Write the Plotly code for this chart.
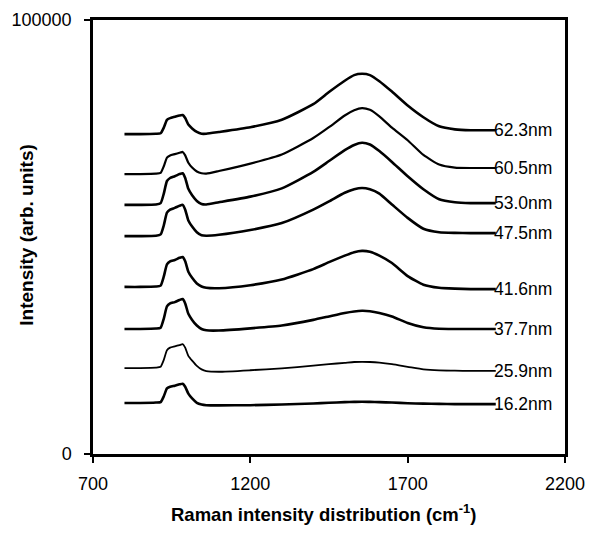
import plotly.graph_objects as go

# Raman shift (cm^-1) sample positions shared by all spectra
raman_shift = [800, 850, 900, 915, 925, 935, 945, 960, 975, 985, 993, 1003, 1015, 1030, 1045, 1060,
               1100, 1200, 1300, 1400, 1450, 1500, 1530, 1555, 1580, 1610, 1650, 1700, 1750, 1800,
               1850, 1900, 1940, 1980]

s_62_3 = [73700, 73700, 73800, 73900, 75200, 77000, 77400, 77700, 78000, 78100, 77400, 75900, 75000, 74200, 73800, 73800,
          74200, 75300, 77000, 80600, 83400, 86000, 87300, 87600, 87300, 85900, 83500, 80300, 77600, 75500,
          74800, 74600, 74600, 74600]
s_60_5 = [64500, 64500, 64600, 64800, 66300, 68300, 68800, 69100, 69400, 69600, 68800, 67100, 66000, 65100, 64700, 64600,
          65200, 66900, 69000, 72800, 75300, 78000, 79200, 79700, 79300, 77800, 75200, 72300, 68900, 66700,
          66000, 65900, 65900, 65900]
s_53_0 = [57400, 57400, 57500, 57800, 60000, 62900, 63600, 64000, 64500, 64700, 63600, 61100, 59600, 58300, 57600, 57500,
          58000, 59300, 61200, 65000, 67500, 70000, 71200, 71700, 71300, 69800, 67300, 64000, 61000, 58700,
          58000, 57800, 57800, 57800]
s_47_5 = [50200, 50200, 50300, 50600, 52700, 55600, 56300, 56700, 57200, 57400, 56300, 53800, 52400, 51100, 50400, 50300,
          50500, 51600, 53200, 56300, 58200, 60200, 61000, 61300, 61000, 60000, 57500, 54400, 51900, 51100,
          50950, 50900, 50900, 50900]
s_41_6 = [38500, 38500, 38600, 38800, 40900, 43700, 44400, 44700, 45200, 45400, 44400, 42000, 40600, 39300, 38600, 38300,
          38200, 38900, 40200, 42600, 44200, 45700, 46500, 46800, 46600, 45700, 44000, 41000, 39000, 38300,
          38100, 38000, 38000, 38000]
s_37_7 = [28800, 28800, 28900, 29100, 31200, 34000, 34700, 35000, 35500, 35700, 34700, 32300, 30900, 29600, 28800, 28500,
          28450, 28950, 29600, 30900, 31700, 32500, 32850, 33000, 32900, 32500, 31700, 30200, 29200, 28850,
          28800, 28800, 28800, 28800]
s_25_9 = [19800, 19800, 19900, 20100, 21700, 23900, 24500, 24800, 25100, 25300, 24500, 22600, 21500, 20300, 19500, 19100,
          18950, 19300, 19750, 20350, 20700, 21000, 21200, 21250, 21200, 21050, 20700, 20100, 19500, 19250,
          19200, 19150, 19150, 19150]
s_16_2 = [11750, 11750, 11850, 11950, 13300, 15100, 15500, 15750, 16050, 16200, 15500, 13900, 12800, 11800, 11400, 11250,
          11200, 11250, 11400, 11650, 11800, 11950, 12000, 12050, 12000, 11950, 11850, 11700, 11600, 11550,
          11500, 11500, 11500, 11500]

series = [s_62_3, s_60_5, s_53_0, s_47_5, s_41_6, s_37_7, s_25_9, s_16_2]
labels = ["62.3nm", "60.5nm", "53.0nm", "47.5nm", "41.6nm", "37.7nm", "25.9nm", "16.2nm"]
widths = [2.6, 2.2, 2.6, 2.6, 2.6, 2.6, 1.8, 2.6]

x_ticks = [700, 1200, 1700, 2200]
y_ticks = [0, 100000]

x_title = "<b>Raman intensity distribution (cm<sup>-1</sup>)</b>"
y_title = "<b>Intensity (arb. units)</b>"

FONT = "Liberation Sans, Arial, sans-serif"

fig = go.Figure()
for ys, lab, w in zip(series, labels, widths):
    fig.add_trace(go.Scatter(x=raman_shift, y=ys, mode="lines", name=lab,
                             line=dict(color="black", width=w, shape="spline", smoothing=0.5),
                             showlegend=False))
    fig.add_annotation(x=raman_shift[-1], y=ys[-1], text=lab, showarrow=False,
                       xanchor="left", yanchor="middle", xshift=-4,
                       font=dict(family=FONT, size=17.5, color="black"))

# axis titles placed as paper annotations
fig.add_annotation(xref="paper", yref="paper", x=0.49, y=-0.135, xanchor="center", yanchor="middle",
                   text=x_title, showarrow=False, font=dict(family=FONT, size=18.5, color="black"))
fig.add_annotation(xref="paper", yref="paper", x=-0.14, y=0.505, xanchor="center", yanchor="middle",
                   text=y_title, textangle=-90, showarrow=False,
                   font=dict(family=FONT, size=19, color="black"))

fig.update_layout(
    width=588, height=533,
    margin=dict(l=85, r=31, t=12, b=87, autoexpand=False),
    paper_bgcolor="white", plot_bgcolor="white",
    font=dict(family=FONT, color="black"),
)
fig.update_xaxes(range=[700, 2200], tickvals=x_ticks, ticktext=[str(v) for v in x_ticks],
                 automargin=False,
                 showgrid=False, zeroline=False, showline=True, linecolor="black", linewidth=2.5,
                 mirror=True, ticks="outside", ticklen=6, tickwidth=2, tickcolor="black",
                 tickfont=dict(family=FONT, size=18), ticklabelstandoff=6)
fig.update_yaxes(range=[0, 100000], tickvals=y_ticks, ticktext=["0", "100000"],
                 automargin=False,
                 showgrid=False, zeroline=False, showline=True, linecolor="black", linewidth=2.5,
                 mirror=True, ticks="outside", ticklen=6, tickwidth=2, tickcolor="black",
                 tickfont=dict(family=FONT, size=18), ticklabelstandoff=9)

fig.write_html("out.html")
